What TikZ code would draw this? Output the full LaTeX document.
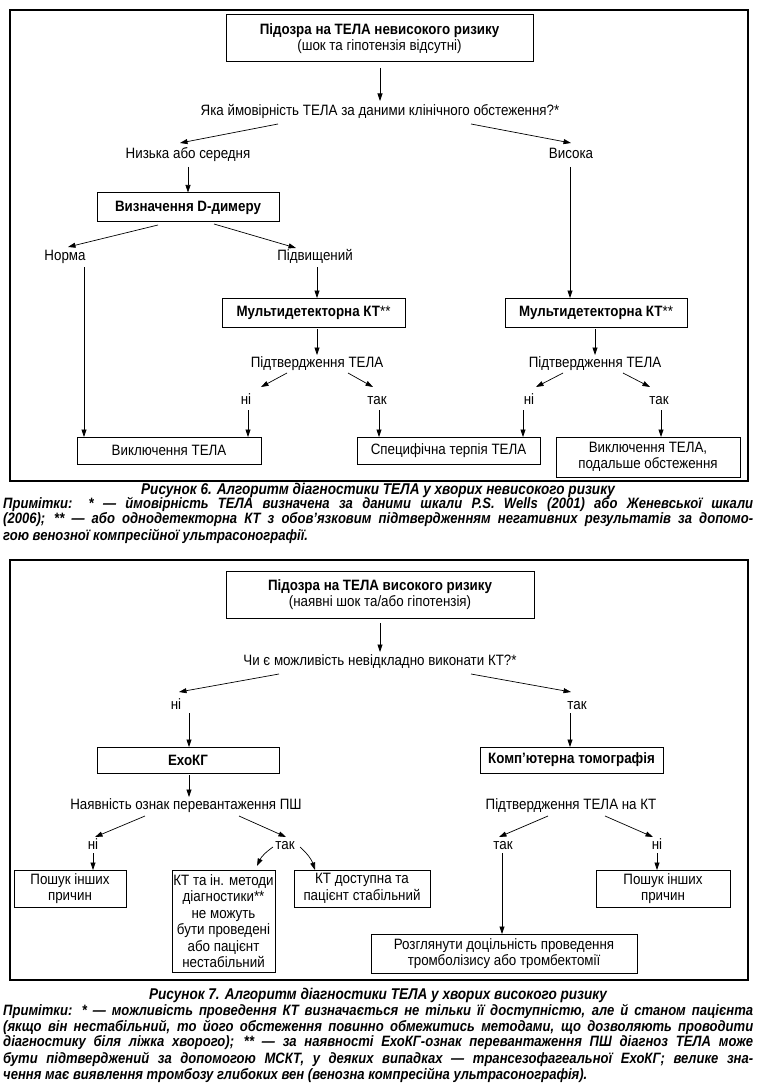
\documentclass[tikz,border=0pt]{standalone}
\usepackage{fontspec}
\setmainfont{Liberation Sans}[FakeStretch=0.89]
\newfontfamily\capfont{Liberation Sans}[FakeStretch=0.87]
\usetikzlibrary{arrows.meta}
\newcommand\jline[1]{\makebox[750pt][s]{#1}}
\begin{document}
\begin{tikzpicture}[x=1pt,y=-1pt,
  dfont/.style={font=\fontsize{15}{16.5}\selectfont},
  box/.style={draw, line width=1pt, align=center, inner sep=0pt, dfont},
  lbl/.style={inner sep=0pt, align=center, dfont, text height=10.5pt, text depth=3pt},
  arr/.style={-{Triangle[length=7.5pt,width=5pt]}, line width=0.7pt},
  frame/.style={draw, line width=1.4pt},
  capn/.style={inner sep=0pt, font=\capfont\bfseries\itshape\fontsize{15.6}{16}\selectfont},
  note/.style={inner sep=0pt, anchor=west, font=\capfont\bfseries\itshape\fontsize{15}{16}\selectfont}]
\useasboundingbox (0,0) rectangle (756,1083);
\fill[white] (0,0) rectangle (756,1083);
% ---------------- Figure 6 ----------------
\draw[frame] (10,10) rectangle (748,481);
\node[box, minimum width=307pt, minimum height=47pt] (t1) at (379.5,38.5)
  {\textbf{Підозра на ТЕЛА невисокого ризику}\\(шок та гіпотензія відсутні)};
\node[lbl] (q1) at (380,112) {Яка ймовірність ТЕЛА за даними клінічного обстеження?*};
\node[lbl] (low) at (188,155) {Низька або середня};
\node[lbl] (high) at (571,155) {Висока};
\node[box, minimum width=182pt, minimum height=29pt] (dd) at (188,207.5) {\textbf{Визначення D-димеру}};
\node[lbl] (norm) at (65,257) {Норма};
\node[lbl] (elev) at (315,257) {Підвищений};
\node[box, minimum width=183pt, minimum height=29pt] (kt1) at (313.5,312.5) {\textbf{Мультидетекторна КТ}**};
\node[box, minimum width=182pt, minimum height=29pt] (kt2) at (596,312.5) {\textbf{Мультидетекторна КТ}**};
\node[lbl] (conf1) at (317,364) {Підтвердження ТЕЛА};
\node[lbl] (conf2) at (595,364) {Підтвердження ТЕЛА};
\node[lbl] (no1) at (246,401) {ні};
\node[lbl] (yes1) at (377,401) {так};
\node[lbl] (no2) at (529,401) {ні};
\node[lbl] (yes2) at (659,401) {так};
\node[box, minimum width=184pt, minimum height=27pt] (ex1) at (169,450.5) {Виключення ТЕЛА};
\node[box, minimum width=183pt, minimum height=27pt] (sp) at (448.5,450.5) {Специфічна терпія ТЕЛА};
\node[box, minimum width=184pt, minimum height=40pt] (ex2) at (648,457) {Виключення ТЕЛА,\\подальше обстеження};

\draw[arr] ([shift={(0.5,29.5)}]t1.center) -- ([shift={(0,-11)}]q1.center);
\draw[arr] ([shift={(-102,12)}]q1.center) -- ([shift={(-8,-12)}]low.center);
\draw[arr] ([shift={(91,12)}]q1.center) -- ([shift={(0,-12)}]high.center);
\draw[arr] ([shift={(0,12)}]low.center) -- (dd.north);
\draw[arr] ([shift={(-1,12)}]high.center) -- ([shift={(-26,-14.5)}]kt2.center);
\draw[arr] ([shift={(-30,17.5)}]dd.center) -- ([shift={(3,-10)}]norm.center);
\draw[arr] ([shift={(26,16.5)}]dd.center) -- ([shift={(-19,-9)}]elev.center);
\draw[arr] ([shift={(19,10)}]norm.center) -- ([shift={(-85,-13.5)}]ex1.center);
\draw[arr] ([shift={(2,10)}]elev.center) -- ([shift={(3.5,-14.5)}]kt1.center);
\draw[arr] ([shift={(3.5,16.5)}]kt1.center) -- ([shift={(0,-9)}]conf1.center);
\draw[arr] ([shift={(-30,9)}]conf1.center) -- ([shift={(15,-14)}]no1.center);
\draw[arr] ([shift={(31,9)}]conf1.center) -- ([shift={(-4,-14)}]yes1.center);
\draw[arr] ([shift={(2,9)}]no1.center) -- ([shift={(79,-13.5)}]ex1.center);
\draw[arr] ([shift={(2,9)}]yes1.center) -- ([shift={(-69.5,-13.5)}]sp.center);
\draw[arr] ([shift={(-1,16.5)}]kt2.center) -- ([shift={(0,-9)}]conf2.center);
\draw[arr] ([shift={(-32,9)}]conf2.center) -- ([shift={(7,-14)}]no2.center);
\draw[arr] ([shift={(28,9)}]conf2.center) -- ([shift={(-9,-14)}]yes2.center);
\draw[arr] ([shift={(-6,9)}]no2.center) -- ([shift={(74.5,-13.5)}]sp.center);
\draw[arr] ([shift={(2,9)}]yes2.center) -- ([shift={(13,-20)}]ex2.center);

\node[capn] (cap1) at (378,490) {Рисунок 6. Алгоритм діагностики ТЕЛА у хворих невисокого ризику};
\node[note] (n1a) at (3,504) {\jline{Примітки: * — ймовірність ТЕЛА визначена за даними шкали P.S. Wells (2001) або Женевської шкали}};
\node[note] (n1b) at (3,520) {\jline{(2006); ** — або однодетекторна КТ з обов’язковим підтвердженням негативних результатів за допомо-}};
\node[note] (n1c) at (3,536) {гою венозної компресійної ультрасонографії.};

% ---------------- Figure 7 ----------------
\draw[frame] (10,560) rectangle (748,980);
\node[box, minimum width=308pt, minimum height=47pt] (t2) at (380,594.5)
  {\textbf{Підозра на ТЕЛА високого ризику}\\(наявні шок та/або гіпотензія)};
\node[lbl] (q2) at (380,662) {Чи є можливість невідкладно виконати КТ?*};
\node[lbl] (no3) at (176,706) {ні};
\node[lbl] (yes3) at (577,706) {так};
\node[box, minimum width=182pt, minimum height=26pt] (echo) at (188,760) {\textbf{ЕхоКГ}};
\node[box, minimum width=183pt, minimum height=26pt] (ct) at (571.5,760) {\textbf{Комп'ютерна томографія}};
\node[lbl] (load) at (186,806) {Наявність ознак перевантаження ПШ};
\node[lbl] (conf3) at (571,806) {Підтвердження ТЕЛА на КТ};
\node[lbl] (no4) at (93,846) {ні};
\node[lbl] (yes4) at (285,846) {так};
\node[lbl] (yes5) at (503,846) {так};
\node[lbl] (no5) at (657,846) {ні};
\node[box, minimum width=112pt, minimum height=37pt] (search1) at (70,888.5) {Пошук інших\\причин};
\node[box, minimum width=103pt, minimum height=102pt] (ctno) at (223.5,921)
  {КТ та ін. методи\\діагностики**\\не можуть\\бути проведені\\або пацієнт\\нестабільний};
\node[box, minimum width=136pt, minimum height=37pt] (ctyes) at (362,888.5) {КТ доступна та\\пацієнт стабільний};
\node[box, minimum width=134pt, minimum height=37pt] (search2) at (663,888.5) {Пошук інших\\причин};
\node[box, minimum width=266pt, minimum height=39pt] (consider) at (504,953.5)
  {Розглянути доцільність проведення\\тромболізису або тромбектомії};

\draw[arr] ([shift={(0,28.5)}]t2.center) -- ([shift={(0,-10)}]q2.center);
\draw[arr] ([shift={(-101,12)}]q2.center) -- ([shift={(3,-14)}]no3.center);
\draw[arr] ([shift={(91,12)}]q2.center) -- ([shift={(-6,-14)}]yes3.center);
\draw[arr] ([shift={(13,7)}]no3.center) -- ([shift={(1,-13)}]echo.center);
\draw[arr] ([shift={(-7,7)}]yes3.center) -- ([shift={(-1.5,-13)}]ct.center);
\draw[arr] ([shift={(1,15)}]echo.center) -- ([shift={(3,-9)}]load.center);
\draw[arr] ([shift={(-41,10)}]load.center) -- ([shift={(2,-9)}]no4.center);
\draw[arr] ([shift={(53,10)}]load.center) -- ([shift={(1,-9)}]yes4.center);
\draw[arr] ([shift={(0,7)}]no4.center) -- ([shift={(23,-18.5)}]search1.center);
\draw[arr] ([shift={(-12,1)}]yes4.center) to[bend right=15] ([shift={(33.5,-55)}]ctno.center);
\draw[arr] ([shift={(15,1)}]yes4.center) to[bend left=15] ([shift={(-47,-18.5)}]ctyes.center);
\draw[arr] ([shift={(-23,10)}]conf3.center) -- ([shift={(-4,-9)}]yes5.center);
\draw[arr] ([shift={(34,10)}]conf3.center) -- ([shift={(-4,-9)}]no5.center);
\draw[arr] ([shift={(-1,7)}]yes5.center) -- ([shift={(-2,-19.5)}]consider.center);
\draw[arr] ([shift={(0,7)}]no5.center) -- ([shift={(-6,-18.5)}]search2.center);

\node[capn] (cap2) at (378,995) {Рисунок 7. Алгоритм діагностики ТЕЛА у хворих високого ризику};
\node[note] (n2a) at (3,1011) {\jline{Примітки: * — можливість проведення КТ визначається не тільки її доступністю, але й станом пацієнта}};
\node[note] (n2b) at (3,1027) {\jline{(якщо він нестабільний, то його обстеження повинно обмежитись методами, що дозволяють проводити}};
\node[note] (n2c) at (3,1043) {\jline{діагностику біля ліжка хворого); ** — за наявності ЕхоКГ-ознак перевантаження ПШ діагноз ТЕЛА може}};
\node[note] (n2d) at (3,1059) {\jline{бути підтверджений за допомогою МСКТ, у деяких випадках — трансезофагеальної ЕхоКГ; велике зна-}};
\node[note] (n2e) at (3,1075) {чення має виявлення тромбозу глибоких вен (венозна компресійна ультрасонографія).};
\end{tikzpicture}
\end{document}
